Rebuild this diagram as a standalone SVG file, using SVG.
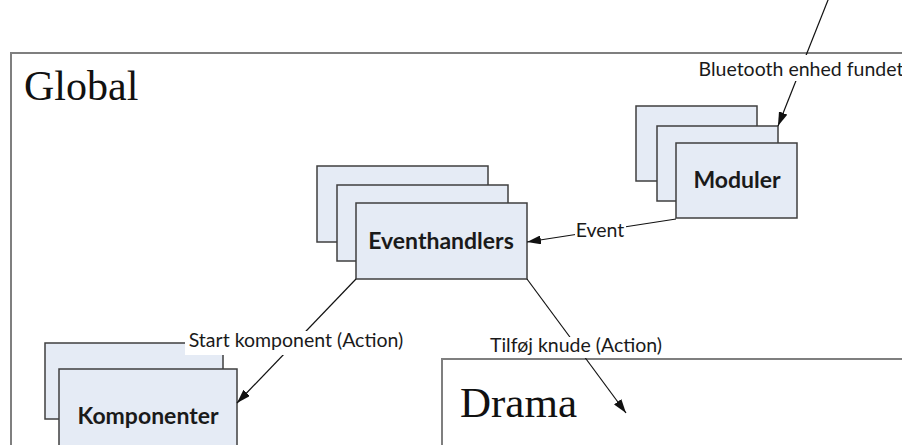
<svg xmlns="http://www.w3.org/2000/svg" width="902" height="445" viewBox="0 0 902 445">
  <style>
    .frame { fill: #ffffff; stroke: #7f7f7f; stroke-width: 2; }
    .box { fill: #e5ebf5; stroke: #3f3f3f; stroke-width: 1.5; }
    .title { font-family: "Liberation Serif", "DejaVu Serif", serif; font-size: 42px; fill: #111111; }
    .name { font-family: Lato, "Liberation Sans", sans-serif; font-size: 23px; font-weight: bold; fill: #1a1a1a; text-anchor: middle; }
    .lbl { font-family: Lato, "Liberation Sans", sans-serif; font-size: 19.5px; fill: #1a1a1a; text-anchor: middle; }
    .wire { stroke: #111111; stroke-width: 1.2; fill: none; marker-end: url(#arrow); }
    .bg { fill: #ffffff; }
  </style>
  <defs>
    <marker id="arrow" markerUnits="userSpaceOnUse" markerWidth="14" markerHeight="9" refX="14" refY="4.5" orient="auto">
      <path d="M0,0 L14,4.5 L0,9 z" fill="#111111"/>
    </marker>
  </defs>

  <rect width="902" height="445" fill="#ffffff"/>

  <!-- outer scope -->
  <g id="global">
    <rect class="frame" x="11" y="53" width="905" height="410"/>
    <text class="title" x="24" y="100">Global</text>
  </g>

  <!-- nested scope -->
  <g id="drama">
    <rect class="frame" x="442" y="359" width="480" height="110"/>
    <text class="title" x="460" y="417" style="font-size:43px">Drama</text>
  </g>

  <g id="moduler">
    <rect class="box" x="636" y="106" width="121" height="75"/>
    <rect class="box" x="657" y="126" width="121" height="75"/>
    <rect class="box" x="676" y="143" width="121" height="75"/>
    <text class="name" x="737" y="188">Moduler</text>
  </g>

  <g id="eventhandlers">
    <rect class="box" x="317" y="166" width="171" height="76"/>
    <rect class="box" x="337" y="185" width="171" height="76"/>
    <rect class="box" x="356" y="203" width="171" height="76"/>
    <text class="name" x="441" y="249">Eventhandlers</text>
  </g>

  <g id="komponenter">
    <rect class="box" x="45" y="343" width="178" height="76"/>
    <rect class="box" x="59" y="369" width="178" height="80"/>
    <text class="name" x="148" y="424">Komponenter</text>
  </g>

  <!-- connectors with their labels -->
  <g id="connectors">
    <line class="wire" x1="830" y1="-5" x2="778" y2="126"/>
    <rect class="bg" x="694" y="55" width="216" height="26"/>
    <text class="lbl" x="801" y="76">Bluetooth enhed fundet</text>

    <line class="wire" x1="676" y1="219" x2="527" y2="242"/>
    <rect class="bg" x="575" y="222" width="51" height="19"/>
    <text class="lbl" x="600" y="237">Event</text>

    <line class="wire" x1="356" y1="279" x2="237" y2="403"/>
    <rect class="bg" x="185" y="331" width="222" height="24"/>
    <text class="lbl" x="296" y="347">Start komponent (Action)</text>

    <line class="wire" x1="527" y1="279" x2="626" y2="413"/>
    <rect class="bg" x="487" y="337" width="179" height="21"/>
    <text class="lbl" x="576" y="352">Tilføj knude (Action)</text>
  </g>
</svg>
